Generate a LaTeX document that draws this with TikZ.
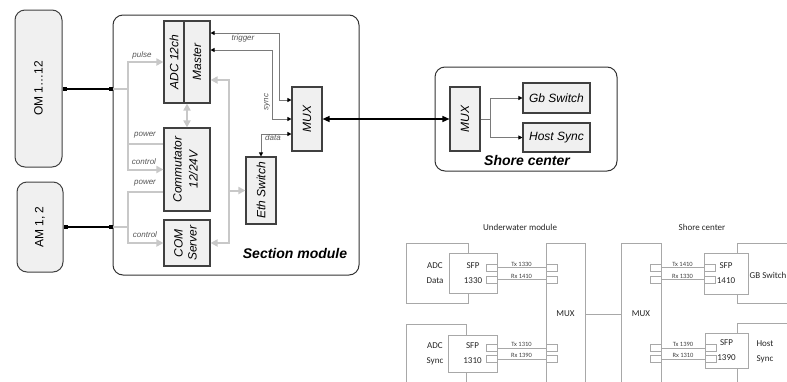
\documentclass[tikz,border=0pt]{standalone}
\usepackage{fontspec}
\setmainfont{Liberation Sans}
\newfontfamily\calib{Carlito}
\usepackage{graphicx}
\usetikzlibrary{arrows.meta,positioning}
\definecolor{boxfill}{HTML}{F0F0F0}
\definecolor{boxline}{HTML}{404040}
\definecolor{bus}{HTML}{C8C8C8}
\definecolor{sig}{HTML}{7A7A7A}
\definecolor{lbl}{HTML}{555555}
\definecolor{pale}{HTML}{A8A8A8}
\newcommand{\vtxt}[1]{\rotatebox{90}{\begin{tabular}{@{}c@{}}#1\end{tabular}}}

\begin{document}
\begin{tikzpicture}[x=1pt, y=-1pt,
      blk/.style={draw=boxline, fill=boxfill, line width=1.1pt, inner sep=0pt, font=\itshape\fontsize{12}{13}\selectfont},
      unit/.style={draw=boxline, fill=boxfill, rounded corners=10pt, line width=1pt, inner sep=0pt, font=\fontsize{12}{13}\selectfont},
      frame/.style={draw=black!80, rounded corners=10pt, line width=1pt},
      tag/.style={font=\itshape\fontsize{8}{9}\selectfont, text=lbl, inner sep=1pt},
      title/.style={font=\bfseries\itshape\fontsize{14}{16}\selectfont},
      plug/.style={line width=2pt, {Square[length=4pt,width=4pt]}-{Square[length=4pt,width=4pt]}},
      busl/.style={bus, line width=2pt},
      busarr/.style={busl, -{Triangle[length=7pt,width=7pt]}},
      busdbl/.style={busl, {Triangle[length=7pt,width=7pt]}-{Triangle[length=7pt,width=7pt]}},
      sigarr/.style={sig, line width=0.8pt, {Triangle[length=4pt,width=4pt,color=black]}-{Triangle[length=4pt,width=4pt,color=black]}},
      sigone/.style={sig, line width=0.8pt, -{Triangle[length=4pt,width=4pt,color=black]}},
      link/.style={line width=1.4pt, {Triangle[length=7pt,width=6pt]}-{Triangle[length=7pt,width=6pt]}},
      pbox/.style={draw=pale, fill=white, line width=0.6pt, inner sep=0pt, align=center, text=black!85, font=\calib\fontsize{9}{15}\selectfont},
      ptxt/.style={align=center, text=black!85, inner sep=0pt, font=\calib\fontsize{9}{15}\selectfont},
      port/.style={draw=pale, fill=white, line width=0.6pt, minimum width=11pt, minimum height=7pt, inner sep=0pt},
      fib/.style={draw=pale, line width=0.6pt},
      fibtag/.style={above, inner sep=1pt, text=black!75, font=\calib\fontsize{6.5}{7}\selectfont}]
    \useasboundingbox (0,0) rectangle (787,381);
    \clip (0,0) rectangle (787,381);
    % upper figure
    \node[frame, minimum width=246pt, minimum height=260pt] (sec) at (236,145) {};
    \node[frame, minimum width=182pt, minimum height=104pt] (shore) at (526,119) {};
    \node[unit, minimum width=47pt, minimum height=157pt] (om) at (38.5,88.5) {\rotatebox{90}{OM 1…12}};
    \node[unit, minimum width=46pt, minimum height=90pt] (am) at (40,227) {\rotatebox{90}{AM 1, 2}};
    \node[blk, minimum width=20pt, minimum height=82pt] (adc) at (174,62) {\rotatebox{90}{ADC 12ch}};
    \node[blk, minimum width=26pt, minimum height=82pt] (master) at (197,62) {\rotatebox{90}{Master}};
    \node[blk, minimum width=46pt, minimum height=83pt] (comm) at (187,169.5) {\vtxt{Commutator\\[3pt]12/24V}};
    \node[blk, minimum width=46pt, minimum height=46pt] (cserv) at (187,243) {\vtxt{COM\\[1pt]Server}};
    \node[blk, minimum width=30pt, minimum height=67pt] (eth) at (261,190.5) {\rotatebox{90}{Eth Switch}};
    \node[blk, minimum width=30pt, minimum height=64pt] (mux) at (307,119) {\rotatebox{90}{MUX}};
    \node[blk, minimum width=30pt, minimum height=64pt] (smux) at (465,119) {\rotatebox{90}{MUX}};
    \node[blk, minimum width=67pt, minimum height=30pt] (gbs) at (556.5,98) {Gb Switch};
    \node[blk, minimum width=67pt, minimum height=29pt] (hsync) at (556.5,137.5) {Host Sync};
    \node[title] (sectitle) at (295,253) {Section module};
    \node[title] (shoretitle) at (527,160) {Shore center};
    \coordinate (omin) at (om.east -| sec.west);
    \coordinate (amin) at (am.east -| sec.west);
    \coordinate (busa) at (128,88.5);
    \coordinate (busb) at (128,227);
    \coordinate (gv) at (229,190.5);
    \coordinate (sfork) at (490,119);
    \draw[plug] (om.east) -- (omin);
    \draw[plug] (am.east) -- (amin);
    \draw[busl] (omin) -- (busa);
    \draw[busarr] (busa) |- (adc.west);
    \draw[busl] (busa) |- ([yshift=26pt]comm.west);
    \draw[busarr] (busa) |- (comm.west);
    \draw[busl] (amin) -- (busb);
    \draw[busl] (busb) |- ([yshift=-22pt]comm.west);
    \draw[busarr] (busb) |- (cserv.west);
    \draw[busdbl] (comm.north) -- (comm.north |- adc.south);
    \draw[busarr] (gv) |- ([yshift=-18pt]master.east);
    \draw[busarr] (gv) |- (cserv.east);
    \draw[busarr] (gv) -- (eth.west);
    \draw[sigarr] ([yshift=29pt]master.east) -| ([xshift=-12pt,yshift=19pt]mux.west) -- ([yshift=19pt]mux.west);
    \draw[sigarr] ([yshift=12pt]master.east) -| ([xshift=-19pt]mux.west) -- (mux.west);
    \draw[sigarr] ([yshift=-15pt]mux.west) -| (eth.north);
    \draw[link] (mux.east) -- (smux.west);
    \draw[sig, line width=0.8pt] (smux.east) -- (sfork);
    \draw[sigone] (sfork) |- (gbs.west);
    \draw[sigone] (sfork) |- (hsync.west);
    \node[tag] (tpulse) at (142,55) {pulse};
    \node[tag] (tpow1) at (145,135) {power};
    \node[tag] (tctl1) at (144,162) {control};
    \node[tag] (tpow2) at (145,183) {power};
    \node[tag] (tctl2) at (145,235) {control};
    \node[tag] (ttrig) at (243,38) {trigger};
    \node[tag, rotate=90] (tsync) at (267,102) {sync};
    \node[tag] (tdata) at (273,138) {data};
    % lower figure
    \node[ptxt] (uwtitle) at (520,227) {Underwater module};
    \node[ptxt] (shtitle) at (702,227) {Shore center};
    \node[pbox, minimum width=62pt, minimum height=60pt] (adcd) at (437,273) {};
    \node[pbox, minimum width=60pt, minimum height=76pt] (adcs) at (436,362) {};
    \node[pbox, minimum width=63pt, minimum height=60pt] (gbsw) at (768.5,273) {};
    \node[pbox, minimum width=63pt, minimum height=77pt] (hst) at (768.5,361.5) {};
    \node[pbox, minimum width=39pt, minimum height=142pt] (umux) at (565.5,314) {MUX};
    \node[pbox, minimum width=40pt, minimum height=142pt] (smuxb) at (641,314) {MUX};
    \node[pbox, minimum width=48pt, minimum height=40pt] (sfpa) at (473,273) {SFP\\1330};
    \node[pbox, minimum width=49pt, minimum height=37pt] (sfpb) at (472.5,353.5) {SFP\\1310};
    \node[pbox, minimum width=44pt, minimum height=41pt] (sfpc) at (726,273.5) {SFP\\1410};
    \node[pbox, minimum width=43pt, minimum height=35pt] (sfpd) at (726.5,350.5) {SFP\\1390};
    \node[ptxt] (adcdt) at (435,273) {ADC\\Data};
    \node[ptxt] (adcst) at (435,354) {ADC\\Sync};
    \node[ptxt] (gbst) at (768,275) {GB Switch};
    \node[ptxt] (hstt) at (765,352) {Host\\Sync};
    \node[port] (pa1) at (491.5,267.5) {};
    \node[port] (pa2) at (491.5,279.5) {};
    \node[port] (pb1) at (491.5,348) {};
    \node[port] (pb2) at (491.5,359) {};
    \node[port] (ma1) at (551.5,267.5) {};
    \node[port] (ma2) at (551.5,279.5) {};
    \node[port] (mb1) at (551.5,348) {};
    \node[port] (mb2) at (551.5,359) {};
    \node[port] (sa1) at (655.5,267.5) {};
    \node[port] (sa2) at (655.5,279.5) {};
    \node[port] (sb1) at (655.5,348) {};
    \node[port] (sb2) at (655.5,359) {};
    \node[port] (pc1) at (709.5,267.5) {};
    \node[port] (pc2) at (709.5,279.5) {};
    \node[port] (pd1) at (710.5,348) {};
    \node[port] (pd2) at (710.5,359) {};
    \draw[fib] (pa1) -- node[fibtag] {Tx 1330} (ma1);
    \draw[fib] (pa2) -- node[fibtag] {Rx 1410} (ma2);
    \draw[fib] (pb1) -- node[fibtag] {Tx 1310} (mb1);
    \draw[fib] (pb2) -- node[fibtag] {Rx 1390} (mb2);
    \draw[fib] (sa1) -- node[fibtag] {Tx 1410} (pc1);
    \draw[fib] (sa2) -- node[fibtag] {Rx 1330} (pc2);
    \draw[fib] (sb1) -- node[fibtag] {Tx 1390} (pd1);
    \draw[fib] (sb2) -- node[fibtag] {Rx 1310} (pd2);
    \draw[fib] (umux) -- (smuxb);
  \end{tikzpicture}
\end{document}
